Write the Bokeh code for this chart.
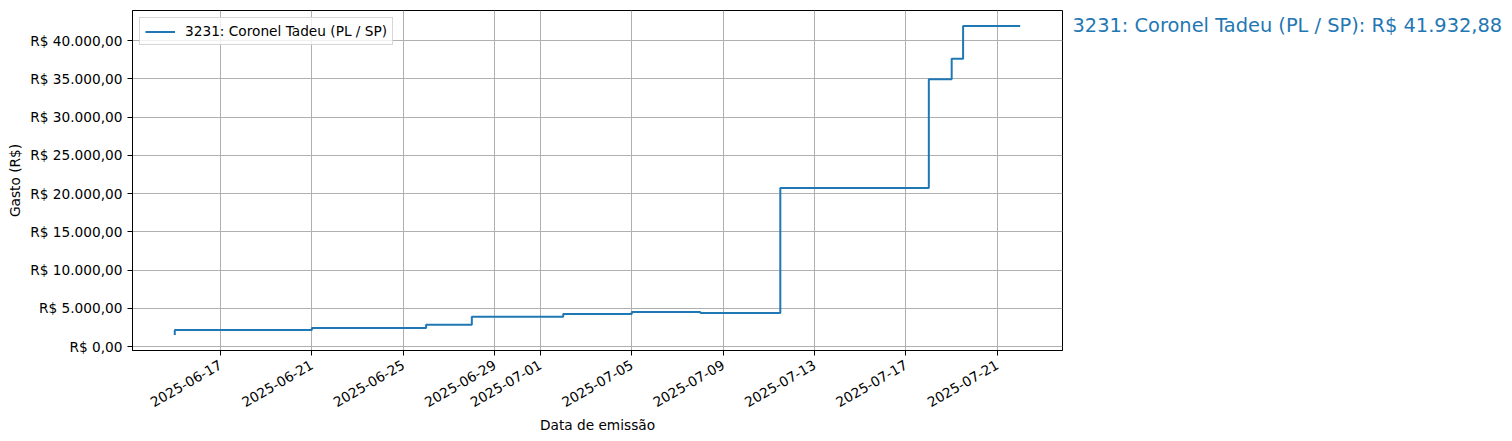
import math
import pandas as pd
from bokeh.plotting import figure
from bokeh.layouts import row
from bokeh.models import Range1d, FixedTicker, CustomJSTickFormatter
from bokeh.embed import file_html
from bokeh.resources import INLINE

# ---- data ----
dates = ["2025-06-15", "2025-06-21", "2025-06-26", "2025-06-28", "2025-07-02",
         "2025-07-05", "2025-07-08", "2025-07-11 12:00", "2025-07-18",
         "2025-07-19", "2025-07-19 12:00", "2025-07-22"]
values = [1520, 2180, 2435, 2870, 3910, 4260, 4520, 4390, 20730, 34950, 37630, 41932.88]
deputado = "3231: Coronel Tadeu (PL / SP)"
x_tick_dates = ["2025-06-17", "2025-06-21", "2025-06-25", "2025-06-29", "2025-07-01",
                "2025-07-05", "2025-07-09", "2025-07-13", "2025-07-17", "2025-07-21"]
y_ticks = [0, 5000, 10000, 15000, 20000, 25000, 30000, 35000, 40000]


def brl(v):
    s = f"{v:,.2f}"
    return "R$ " + s.replace(",", "X").replace(".", ",").replace("X", ".")


def ms(d):
    return (pd.Timestamp(d) - pd.Timestamp("1970-01-01")) / pd.Timedelta("1ms")


xs = [ms(d) for d in dates]
xpad = 0.05 * (max(xs) - min(xs))
ypad = 0.05 * (max(values) - min(values))

FONT = "DejaVu Sans"
FS = "13.7px"
H = 441
TOP, BOTTOM = 10, 91

yr = Range1d(min(values) - ypad, max(values) + ypad)

p = figure(width=1063, height=H, x_axis_type="datetime",
           x_range=Range1d(min(xs) - xpad, max(xs) + xpad), y_range=yr,
           output_backend="svg", toolbar_location=None,
           min_border_left=132, min_border_right=1,
           min_border_top=TOP, min_border_bottom=BOTTOM,
           background_fill_color="white", border_fill_color="white")

p.step(xs, values, mode="before", line_color="#1f77b4", line_width=2,
       legend_label=deputado)

# axes
p.xaxis.ticker = FixedTicker(ticks=[ms(d) for d in x_tick_dates])
p.xaxis.formatter = CustomJSTickFormatter(code="""
    return new Date(tick).toISOString().slice(0, 10);
""")
p.yaxis.ticker = FixedTicker(ticks=y_ticks)
p.yaxis.formatter = CustomJSTickFormatter(code="""
    const s = tick.toFixed(2).split('.');
    const i = s[0].replace(/\\B(?=(\\d{3})+(?!\\d))/g, '.');
    return 'R$ ' + i + ',' + s[1];
""")
p.xaxis.major_label_orientation = math.pi / 6
p.xaxis.axis_label = "Data de emissão"
p.yaxis.axis_label = "Gasto (R$)"

for ax in p.axis:
    ax.axis_line_color = "black"
    ax.axis_line_width = 1
    ax.major_tick_line_color = "black"
    ax.major_tick_line_width = 1
    ax.major_tick_out = 5
    ax.major_tick_in = 0
    ax.minor_tick_line_color = None
    ax.major_label_text_font = FONT
    ax.major_label_text_font_size = FS
    ax.major_label_text_color = "black"
    ax.axis_label_text_font = FONT
    ax.axis_label_text_font_size = FS
    ax.axis_label_text_font_style = "normal"
    ax.axis_label_text_color = "black"
p.yaxis.major_label_standoff = 5
p.yaxis.axis_label_standoff = 4
p.xaxis.major_label_standoff = 8
p.xaxis.axis_label_standoff = 2

p.grid.grid_line_color = "#b0b0b0"
p.grid.grid_line_width = 1
p.outline_line_color = "black"
p.outline_line_width = 1

# legend
lg = p.legend[0]
lg.location = "top_left"
lg.margin = 7
lg.padding = 5
lg.spacing = 0
lg.glyph_width = 30
lg.glyph_height = 15
lg.label_height = 15
lg.label_standoff = 10
lg.label_text_font = FONT
lg.label_text_font_size = FS
lg.label_text_color = "black"
lg.border_line_color = "#cccccc"
lg.border_line_alpha = 0.8
lg.background_fill_alpha = 0.8

# side panel carrying the total annotation, sharing the y scale
side = figure(width=441, height=H, x_range=Range1d(0, 1), y_range=yr,
              output_backend="svg", toolbar_location=None,
              min_border_left=0, min_border_right=0,
              min_border_top=TOP, min_border_bottom=BOTTOM,
              background_fill_color="white", border_fill_color="white")
side.axis.visible = False
side.grid.visible = False
side.outline_line_color = None
side.text(x=[0], y=[values[-1]], text=[f"{deputado}: {brl(values[-1])}"],
          x_offset=9, text_color="#1f77b4", text_font_size="19.4px",
          text_baseline="middle", text_align="left",
          text_font={"value": FONT})

layout = row(p, side, spacing=0)
open("out.html", "w").write(file_html(layout, INLINE))
